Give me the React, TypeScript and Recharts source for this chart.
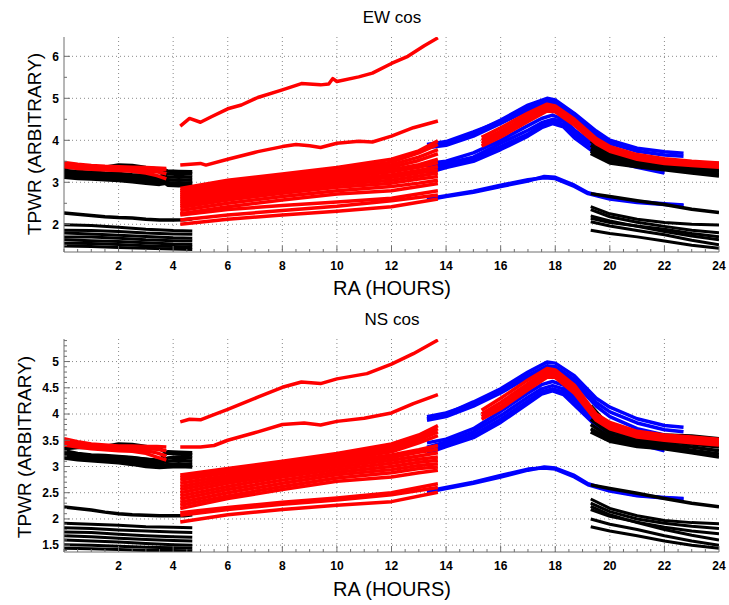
import { LineChart, Line, XAxis, YAxis, CartesianGrid } from 'recharts';

// RA sample positions (hours), shared by both panels
const raEarly = [0, 0.5, 1, 1.5, 2, 2.5, 3, 3.5, 3.8, 4.2, 4.7];
const raEarlyRed = [0, 0.5, 1, 1.5, 2, 2.5, 3, 3.4, 3.75];
const raEarlyMid = [0, 0.5, 1, 1.5, 2, 2.5, 3, 3.5, 4, 4.4, 4.7];
const raEarlyLow = [0, 1, 2, 3, 4, 4.7];
const raBand = [4.26, 6, 8, 10, 12, 13, 13.7];
const raBandLow = [4.26, 6, 8, 10, 12, 13.7];
const raBlueUpper = [13.3, 14, 15, 16, 17, 17.7, 18, 18.7, 19.5, 20, 21, 22, 22.7];
const raBlueMid = [13.3, 14, 15, 16, 17, 17.5, 17.9, 18.3, 18.7, 19.5, 20, 21, 22];
const raBlueLow = [13.3, 14, 15, 16, 17, 17.6, 18, 18.7, 19.2, 20, 21, 22, 22.7];
const raPeak = [15.3, 16, 17, 17.7, 18, 18.7, 19.5, 20, 21, 22, 23, 24];
const raLate = [19.3, 20, 21, 22, 23, 24];

// ---- EW cos ----
const ewBlackEarly = [
  [3.36, 3.36, 3.35, 3.36, 3.41, 3.4, 3.35, 3.31, 3.27, 3.26, 3.25],
  [3.28, 3.26, 3.24, 3.22, 3.21, 3.18, 3.16, 3.14, 3.2, 3.22, 3.2],
  [3.22, 3.19, 3.17, 3.15, 3.13, 3.11, 3.08, 3.06, 3.12, 3.14, 3.12],
  [3.17, 3.13, 3.11, 3.09, 3.07, 3.05, 3.02, 2.99, 3.05, 3.06, 3.05],
  [3.12, 3.09, 3.08, 3.06, 3.04, 3.01, 2.98, 2.95, 2.98, 2.99, 2.98],
  [3.25, 3.22, 3.2, 3.19, 3.18, 3.15, 3.12, 3.08, 2.93, 2.92, 2.94],
];
const ewRedEarly = [
  [3.47, 3.43, 3.4, 3.38, 3.37, 3.36, 3.35, 3.34, 3.33],
  [3.43, 3.39, 3.37, 3.36, 3.35, 3.34, 3.32, 3.31, 3.3],
  [3.4, 3.36, 3.33, 3.32, 3.3, 3.29, 3.27, 3.25, 3.2],
  [3.37, 3.33, 3.31, 3.29, 3.28, 3.26, 3.22, 3.16, 3.08],
];
const ewBlackEarlyMid = [[2.27, 2.24, 2.21, 2.18, 2.16, 2.15, 2.12, 2.1, 2.1, 2.11, 2.13]];
const ewBlackEarlyLow = [
  [1.99, 1.97, 1.93, 1.88, 1.85, 1.84],
  [1.86, 1.85, 1.83, 1.79, 1.77, 1.76],
  [1.79, 1.77, 1.74, 1.71, 1.68, 1.67],
  [1.7, 1.7, 1.67, 1.63, 1.61, 1.6],
  [1.63, 1.61, 1.59, 1.56, 1.53, 1.52],
  [1.55, 1.54, 1.52, 1.49, 1.47, 1.46],
  [1.48, 1.47, 1.45, 1.43, 1.41, 1.4],
];
const ewRedTopRA = [4.26, 4.6, 5.0, 5.4, 6.0, 6.5, 7.1, 8.0, 8.7, 9.4, 9.7, 9.85, 10.0, 10.8, 11.3, 12.0, 12.6, 13.2, 13.7];
const ewRedTop = [[4.34, 4.52, 4.43, 4.56, 4.75, 4.84, 5.02, 5.2, 5.35, 5.32, 5.34, 5.47, 5.4, 5.51, 5.6, 5.83, 6.0, 6.25, 6.44]];
const ewRedSecondRA = [4.26, 5.0, 5.2, 6.0, 7.1, 8.0, 8.5, 9.0, 9.4, 10.0, 10.8, 11.3, 12.0, 12.8, 13.7];
const ewRedSecond = [[3.41, 3.45, 3.41, 3.55, 3.73, 3.85, 3.9, 3.87, 3.83, 3.93, 3.98, 3.96, 4.1, 4.3, 4.46]];
const ewRedBand = [
  [2.85, 3.05, 3.2, 3.35, 3.55, 3.75, 3.99],
  [2.8, 3.0, 3.15, 3.3, 3.48, 3.7, 3.9],
  [2.75, 2.95, 3.1, 3.25, 3.42, 3.6, 3.78],
  [2.7, 2.9, 3.06, 3.2, 3.36, 3.52, 3.68],
  [2.65, 2.86, 3.02, 3.15, 3.3, 3.42, 3.55],
  [2.6, 2.8, 2.97, 3.1, 3.25, 3.36, 3.47],
  [2.55, 2.75, 2.92, 3.05, 3.18, 3.28, 3.38],
  [2.5, 2.7, 2.86, 3.0, 3.12, 3.22, 3.3],
  [2.45, 2.64, 2.8, 2.95, 3.05, 3.15, 3.22],
  [2.4, 2.58, 2.74, 2.88, 2.98, 3.08, 3.14],
  [2.33, 2.5, 2.66, 2.8, 2.9, 2.98, 3.05],
  [2.25, 2.42, 2.58, 2.72, 2.8, 2.9, 2.97],
];
const ewRedLow = [
  [2.22, 2.35, 2.45, 2.53, 2.62, 2.8],
  [2.1, 2.22, 2.33, 2.43, 2.56, 2.7],
  [2.0, 2.12, 2.22, 2.31, 2.42, 2.6],
];
const ewBlueUpper = [
  [3.85, 3.93, 4.17, 4.48, 4.84, 5.0, 4.96, 4.64, 4.22, 4.0, 3.81, 3.73, 3.69],
  [3.9, 3.97, 4.2, 4.45, 4.78, 4.93, 4.9, 4.58, 4.16, 3.93, 3.74, 3.65, 3.62],
  [3.82, 3.88, 4.1, 4.4, 4.72, 4.88, 4.85, 4.52, 4.08, 3.85, 3.62, 3.5, 3.45],
];
const ewBlueMid = [
  [3.37, 3.45, 3.6, 3.93, 4.24, 4.42, 4.5, 4.45, 4.2, 3.8, 3.64, 3.45, 3.3],
  [3.28, 3.4, 3.55, 3.85, 4.15, 4.35, 4.45, 4.38, 4.12, 3.74, 3.58, 3.4, 3.25],
  [3.22, 3.35, 3.5, 3.78, 4.1, 4.3, 4.4, 4.32, 4.06, 3.68, 3.52, 3.36, 3.22],
  [3.45, 3.5, 3.7, 4.0, 4.35, 4.52, 4.6, 4.5, 4.25, 3.85, 3.7, 3.5, 3.35],
];
const ewBlueLow = [
  [2.58, 2.66, 2.76, 2.9, 3.03, 3.14, 3.12, 2.93, 2.75, 2.62, 2.54, 2.49, 2.46],
  [2.61, 2.68, 2.79, 2.93, 3.06, 3.11, 3.09, 2.9, 2.73, 2.6, 2.52, 2.47, 2.45],
];
const ewRedPeak = [
  [4.07, 4.3, 4.65, 4.86, 4.82, 4.5, 4.04, 3.85, 3.66, 3.56, 3.5, 3.46],
  [4.0, 4.22, 4.58, 4.8, 4.78, 4.45, 4.0, 3.81, 3.62, 3.52, 3.46, 3.42],
  [3.93, 4.15, 4.52, 4.75, 4.73, 4.4, 3.96, 3.77, 3.58, 3.48, 3.43, 3.39],
  [3.86, 4.08, 4.45, 4.7, 4.68, 4.36, 3.92, 3.74, 3.55, 3.45, 3.4, 3.36],
];
const ewBlackLateHigh = [
  [4.09, 3.72, 3.58, 3.5, 3.48, 3.45],
  [3.98, 3.66, 3.53, 3.45, 3.42, 3.38],
  [3.88, 3.6, 3.48, 3.41, 3.37, 3.32],
  [3.8, 3.54, 3.44, 3.37, 3.32, 3.26],
  [3.74, 3.5, 3.4, 3.33, 3.27, 3.2],
  [3.69, 3.46, 3.37, 3.3, 3.22, 3.15],
];
const ewBlackLateMid = [[2.73, 2.66, 2.56, 2.47, 2.36, 2.28]];
const ewBlackLateLow = [
  [2.42, 2.25, 2.12, 2.04, 2.0, 1.98],
  [2.35, 2.18, 2.05, 1.95, 1.86, 1.8],
  [2.14, 2.04, 1.96, 1.88, 1.78, 1.7],
  [2.2, 2.08, 1.95, 1.83, 1.72, 1.63],
  [2.06, 1.96, 1.85, 1.75, 1.62, 1.51],
  [1.86, 1.78, 1.7, 1.6, 1.5, 1.43],
];

// ---- NS cos ----
const nsBlackEarly = [
  [3.34, 3.36, 3.36, 3.38, 3.43, 3.42, 3.38, 3.34, 3.25, 3.24, 3.22],
  [3.3, 3.25, 3.22, 3.21, 3.19, 3.17, 3.14, 3.1, 3.16, 3.18, 3.16],
  [3.25, 3.21, 3.18, 3.16, 3.14, 3.12, 3.09, 3.06, 3.1, 3.12, 3.1],
  [3.2, 3.17, 3.14, 3.12, 3.1, 3.07, 3.04, 3.01, 3.04, 3.05, 3.04],
  [3.16, 3.13, 3.11, 3.09, 3.07, 3.04, 3.0, 2.98, 2.99, 3.0, 2.99],
  [3.28, 3.24, 3.2, 3.19, 3.18, 3.16, 3.14, 3.12, 3.28, 3.27, 3.26],
];
const nsRedEarly = [
  [3.53, 3.47, 3.43, 3.41, 3.39, 3.39, 3.38, 3.38, 3.37],
  [3.49, 3.44, 3.4, 3.38, 3.36, 3.35, 3.34, 3.33, 3.3],
  [3.45, 3.41, 3.37, 3.35, 3.33, 3.32, 3.3, 3.26, 3.2],
  [3.41, 3.37, 3.34, 3.32, 3.3, 3.29, 3.25, 3.18, 3.12],
];
const nsBlackEarlyMid = [[2.23, 2.2, 2.17, 2.13, 2.1, 2.08, 2.07, 2.06, 2.06, 2.06, 2.08]];
const nsBlackEarlyLow = [
  [1.92, 1.9, 1.88, 1.85, 1.84, 1.83],
  [1.83, 1.82, 1.79, 1.77, 1.75, 1.74],
  [1.75, 1.74, 1.71, 1.68, 1.66, 1.65],
  [1.68, 1.66, 1.63, 1.61, 1.59, 1.58],
  [1.6, 1.58, 1.56, 1.53, 1.51, 1.5],
  [1.51, 1.5, 1.48, 1.46, 1.45, 1.44],
  [1.44, 1.43, 1.42, 1.4, 1.4, 1.39],
];
const nsRedTopRA = [4.26, 4.6, 5.0, 5.4, 6.0, 7.1, 8.0, 8.7, 9.4, 10.0, 11.1, 12.0, 12.8, 13.7];
const nsRedTop = [[3.85, 3.9, 3.89, 3.97, 4.09, 4.32, 4.51, 4.61, 4.58, 4.67, 4.77, 4.95, 5.15, 5.41]];
const nsRedSecondRA = [4.26, 5.0, 5.5, 6.0, 7.1, 8.0, 8.8, 9.4, 10.0, 11.0, 12.0, 12.8, 13.7];
const nsRedSecond = [[3.37, 3.37, 3.4, 3.5, 3.66, 3.8, 3.83, 3.79, 3.86, 3.92, 4.02, 4.2, 4.37]];
const nsRedBand = [
  [2.84, 2.96, 3.1, 3.25, 3.43, 3.6, 3.78],
  [2.79, 2.92, 3.06, 3.2, 3.38, 3.55, 3.72],
  [2.74, 2.88, 3.02, 3.16, 3.33, 3.5, 3.66],
  [2.68, 2.83, 2.98, 3.12, 3.28, 3.45, 3.59],
  [2.62, 2.78, 2.94, 3.08, 3.22, 3.32, 3.4],
  [2.56, 2.73, 2.9, 3.04, 3.17, 3.27, 3.33],
  [2.5, 2.68, 2.85, 2.99, 3.12, 3.2, 3.26],
  [2.44, 2.62, 2.8, 2.94, 3.06, 3.14, 3.18],
  [2.38, 2.56, 2.74, 2.89, 3.0, 3.08, 3.12],
  [2.32, 2.5, 2.68, 2.84, 2.94, 3.02, 3.05],
  [2.26, 2.44, 2.62, 2.78, 2.88, 2.96, 2.99],
  [2.2, 2.39, 2.56, 2.72, 2.8, 2.88, 2.93],
];
const nsRedLow = [
  [2.12, 2.22, 2.32, 2.4, 2.5, 2.67],
  [2.07, 2.18, 2.28, 2.36, 2.46, 2.6],
  [1.94, 2.08, 2.18, 2.26, 2.33, 2.51],
];
const nsBlueUpper = [
  [3.91, 4.0, 4.23, 4.48, 4.8, 4.99, 4.97, 4.73, 4.3, 4.13, 3.91, 3.78, 3.75],
  [3.95, 4.02, 4.2, 4.44, 4.74, 4.92, 4.9, 4.66, 4.22, 4.04, 3.83, 3.7, 3.66],
  [3.88, 3.95, 4.15, 4.4, 4.7, 4.88, 4.86, 4.6, 4.15, 3.95, 3.72, 3.6, 3.55],
];
const nsBlueMid = [
  [3.37, 3.47, 3.66, 3.97, 4.32, 4.48, 4.54, 4.48, 4.29, 3.88, 3.69, 3.53, 3.4],
  [3.3, 3.42, 3.6, 3.9, 4.25, 4.42, 4.48, 4.42, 4.22, 3.82, 3.63, 3.48, 3.35],
  [3.25, 3.38, 3.55, 3.84, 4.2, 4.38, 4.44, 4.37, 4.17, 3.77, 3.58, 3.43, 3.3],
  [3.45, 3.52, 3.72, 4.05, 4.4, 4.56, 4.62, 4.55, 4.33, 3.92, 3.74, 3.57, 3.45],
];
const nsBlueLow = [
  [2.51, 2.58, 2.68, 2.8, 2.93, 2.99, 2.97, 2.83, 2.67, 2.55, 2.45, 2.41, 2.39],
  [2.53, 2.6, 2.7, 2.83, 2.95, 2.97, 2.95, 2.8, 2.65, 2.53, 2.44, 2.4, 2.38],
];
const nsRedPeak = [
  [4.07, 4.3, 4.65, 4.87, 4.84, 4.55, 4.0, 3.84, 3.67, 3.6, 3.56, 3.52],
  [4.0, 4.22, 4.58, 4.81, 4.8, 4.5, 3.96, 3.8, 3.63, 3.56, 3.52, 3.48],
  [3.95, 4.15, 4.52, 4.76, 4.75, 4.45, 3.92, 3.76, 3.6, 3.53, 3.48, 3.45],
  [3.9, 4.1, 4.46, 4.7, 4.7, 4.4, 3.88, 3.72, 3.56, 3.5, 3.45, 3.41],
];
const nsBlackLateHigh = [
  [4.16, 3.75, 3.65, 3.6, 3.58, 3.53],
  [4.02, 3.68, 3.58, 3.53, 3.5, 3.45],
  [3.9, 3.62, 3.52, 3.47, 3.43, 3.37],
  [3.8, 3.56, 3.47, 3.42, 3.37, 3.3],
  [3.72, 3.52, 3.42, 3.38, 3.31, 3.24],
  [3.66, 3.48, 3.38, 3.34, 3.26, 3.18],
];
const nsBlackLateMid = [[2.65, 2.58, 2.49, 2.39, 2.3, 2.23]];
const nsBlackLateLow = [
  [2.38, 2.2, 2.06, 1.97, 1.93, 1.91],
  [2.3, 2.14, 2.0, 1.92, 1.86, 1.82],
  [2.18, 2.05, 1.94, 1.84, 1.77, 1.72],
  [2.24, 2.08, 1.93, 1.8, 1.69, 1.6],
  [2.0, 1.9, 1.8, 1.68, 1.58, 1.5],
  [1.85, 1.77, 1.68, 1.58, 1.5, 1.44],
];

// axis ticks
const xTicks = [0, 0.5, 1, 1.5, 2, 2.5, 3, 3.5, 4, 4.5, 5, 5.5, 6, 6.5, 7, 7.5, 8, 8.5, 9, 9.5, 10, 10.5, 11, 11.5, 12, 12.5, 13, 13.5, 14, 14.5, 15, 15.5, 16, 16.5, 17, 17.5, 18, 18.5, 19, 19.5, 20, 20.5, 21, 21.5, 22, 22.5, 23, 23.5, 24];
const xLabels = [2, 4, 6, 8, 10, 12, 14, 16, 18, 20, 22, 24];
const ewYTicks = [1.5, 2, 2.5, 3, 3.5, 4, 4.5, 5, 5.5, 6];
const ewYLabels = [2, 3, 4, 5, 6];
const nsYTicks = [1.4, 1.5, 1.6, 1.7, 1.8, 1.9, 2, 2.1, 2.2, 2.3, 2.4, 2.5, 2.6, 2.7, 2.8, 2.9, 3, 3.1, 3.2, 3.3, 3.4, 3.5, 3.6, 3.7, 3.8, 3.9, 4, 4.1, 4.2, 4.3, 4.4, 4.5, 4.6, 4.7, 4.8, 4.9, 5, 5.1, 5.2, 5.3, 5.4];
const nsYLabels = [1.5, 2, 2.5, 3, 3.5, 4, 4.5, 5];

const RED = '#ff0000';
const BLUE = '#0000ff';
const BLACK = '#000000';
const FRAME = '#6e6e6e';

type Group = { ra: number[]; rows: number[][]; color: string; width?: number };

// drawing order: blue, then black, then red on top
const ewGroups: Group[] = [
  { ra: raBlueUpper, rows: ewBlueUpper, color: BLUE },
  { ra: raBlueMid, rows: ewBlueMid, color: BLUE },
  { ra: raBlueLow, rows: ewBlueLow, color: BLUE },
  { ra: raEarly, rows: ewBlackEarly, color: BLACK },
  { ra: raEarlyMid, rows: ewBlackEarlyMid, color: BLACK },
  { ra: raEarlyLow, rows: ewBlackEarlyLow, color: BLACK, width: 3 },
  { ra: raLate, rows: ewBlackLateHigh, color: BLACK },
  { ra: raLate, rows: ewBlackLateMid, color: BLACK },
  { ra: raLate, rows: ewBlackLateLow, color: BLACK, width: 3 },
  { ra: raEarlyRed, rows: ewRedEarly, color: RED },
  { ra: ewRedTopRA, rows: ewRedTop, color: RED },
  { ra: ewRedSecondRA, rows: ewRedSecond, color: RED },
  { ra: raBand, rows: ewRedBand, color: RED },
  { ra: raBandLow, rows: ewRedLow, color: RED },
  { ra: raPeak, rows: ewRedPeak, color: RED },
];

const nsGroups: Group[] = [
  { ra: raBlueUpper, rows: nsBlueUpper, color: BLUE },
  { ra: raBlueMid, rows: nsBlueMid, color: BLUE },
  { ra: raBlueLow, rows: nsBlueLow, color: BLUE },
  { ra: raEarly, rows: nsBlackEarly, color: BLACK },
  { ra: raEarlyMid, rows: nsBlackEarlyMid, color: BLACK },
  { ra: raEarlyLow, rows: nsBlackEarlyLow, color: BLACK, width: 3 },
  { ra: raLate, rows: nsBlackLateHigh, color: BLACK },
  { ra: raLate, rows: nsBlackLateMid, color: BLACK },
  { ra: raLate, rows: nsBlackLateLow, color: BLACK, width: 3 },
  { ra: raEarlyRed, rows: nsRedEarly, color: RED },
  { ra: nsRedTopRA, rows: nsRedTop, color: RED },
  { ra: nsRedSecondRA, rows: nsRedSecond, color: RED },
  { ra: raBand, rows: nsRedBand, color: RED },
  { ra: raBandLow, rows: nsRedLow, color: RED },
  { ra: raPeak, rows: nsRedPeak, color: RED },
];

const tickFont = { fontFamily: '"Liberation Sans", Arial, sans-serif', fontSize: 12, fontWeight: 700, fill: '#000' };

function XTick(props: any) {
  const { x, y, payload, side } = props;
  const major = xLabels.includes(payload.value);
  const len = major ? 6 : 3;
  const dir = side === 'bottom' ? -1 : 1;
  return (
    <g>
      <line x1={x} x2={x} y1={y} y2={y + dir * len} stroke={FRAME} />
      {side === 'bottom' && major && (
        <text x={x} y={y + 18} textAnchor="middle" {...tickFont}>{payload.value}</text>
      )}
    </g>
  );
}

function YTick(props: any) {
  const { x, y, payload, side, labels } = props;
  const major = labels.includes(payload.value);
  const len = major ? 6 : 3;
  const dir = side === 'left' ? 1 : -1;
  return (
    <g>
      <line x1={x} x2={x + dir * len} y1={y} y2={y} stroke={FRAME} />
      {side === 'left' && major && (
        <text x={x - 5} y={y} dy="0.36em" textAnchor="end" {...tickFont}>{payload.value}</text>
      )}
    </g>
  );
}

interface PanelProps {
  groups: Group[];
  yDomain: [number, number];
  yTicks: number[];
  yLabels: number[];
  height: number;
  top: number;
  xAxisHeight: number;
}

function Panel({ groups, yDomain, yTicks, yLabels, height, top, xAxisHeight }: PanelProps) {
  return (
    <LineChart width={729} height={height} margin={{ top, right: 10, bottom: 0, left: 0 }}>
      <CartesianGrid
        stroke="#8a8a8a"
        strokeDasharray="1 3"
        verticalValues={xLabels.slice(0, -1)}
        horizontalValues={yLabels}
      />
      <XAxis
        dataKey="ra"
        type="number"
        domain={[0, 24]}
        ticks={xTicks}
        interval={0}
        height={xAxisHeight}
        tickSize={0}
        tickMargin={0}
        tickLine={false}
        axisLine={{ stroke: FRAME }}
        allowDataOverflow
        tick={(p: any) => <XTick {...p} side="bottom" />}
      />
      <XAxis
        xAxisId="top"
        orientation="top"
        type="number"
        domain={[0, 24]}
        ticks={xTicks}
        interval={0}
        height={0}
        tickSize={0}
        tickMargin={0}
        tickLine={false}
        axisLine={{ stroke: FRAME }}
        allowDataOverflow
        tick={(p: any) => <XTick {...p} side="top" />}
      />
      <YAxis
        type="number"
        domain={yDomain}
        ticks={yTicks}
        interval={0}
        width={64}
        tickSize={0}
        tickMargin={0}
        tickLine={false}
        axisLine={{ stroke: FRAME }}
        allowDataOverflow
        tick={(p: any) => <YTick {...p} side="left" labels={yLabels} />}
      />
      <YAxis
        yAxisId="right"
        orientation="right"
        type="number"
        domain={yDomain}
        ticks={yTicks}
        interval={0}
        width={0}
        tickSize={0}
        tickMargin={0}
        tickLine={false}
        axisLine={{ stroke: FRAME }}
        allowDataOverflow
        tick={(p: any) => <YTick {...p} side="right" labels={yLabels} />}
      />
      {groups.flatMap((g, gi) =>
        g.rows.map((row, ri) => (
          <Line
            key={`${gi}-${ri}`}
            data={g.ra.map((ra, i) => ({ ra, v: row[i] }))}
            dataKey="v"
            type="linear"
            stroke={g.color}
            strokeWidth={g.width ?? 3.5}
            strokeLinejoin="round"
            dot={false}
            activeDot={false}
            isAnimationActive={false}
          />
        ))
      )}
    </LineChart>
  );
}

const labelFont = { fontFamily: '"Liberation Sans", Arial, sans-serif', fill: '#000' };

export default function App() {
  return (
    <div style={{ position: 'absolute', left: 0, top: 0, width: 729, height: 605, background: '#fff' }}>
      <div style={{ position: 'absolute', left: 0, top: 0 }}>
        <Panel groups={ewGroups} yDomain={[1.34, 6.46]} yTicks={ewYTicks} yLabels={ewYLabels} height={300} top={37} xAxisHeight={48} />
      </div>
      <div style={{ position: 'absolute', left: 0, top: 300 }}>
        <Panel groups={nsGroups} yDomain={[1.37, 5.43]} yTicks={nsYTicks} yLabels={nsYLabels} height={305} top={39} xAxisHeight={53} />
      </div>
      <svg width={729} height={605} style={{ position: 'absolute', left: 0, top: 0, pointerEvents: 'none' }}>
        <text x={392} y={23} textAnchor="middle" fontSize={17} {...labelFont}>EW cos</text>
        <text x={392} y={295} textAnchor="middle" fontSize={20} {...labelFont}>RA (HOURS)</text>
        <text transform="translate(34,144) rotate(-90)" dy="0.36em" textAnchor="middle" fontSize={19} {...labelFont}>TPWR (ARBITRARY)</text>
        <text x={392} y={325} textAnchor="middle" fontSize={17} {...labelFont}>NS cos</text>
        <text x={392} y={596} textAnchor="middle" fontSize={20} {...labelFont}>RA (HOURS)</text>
        <text transform="translate(24,447) rotate(-90)" dy="0.36em" textAnchor="middle" fontSize={19} {...labelFont}>TPWR (ARBITRARY)</text>
      </svg>
    </div>
  );
}
